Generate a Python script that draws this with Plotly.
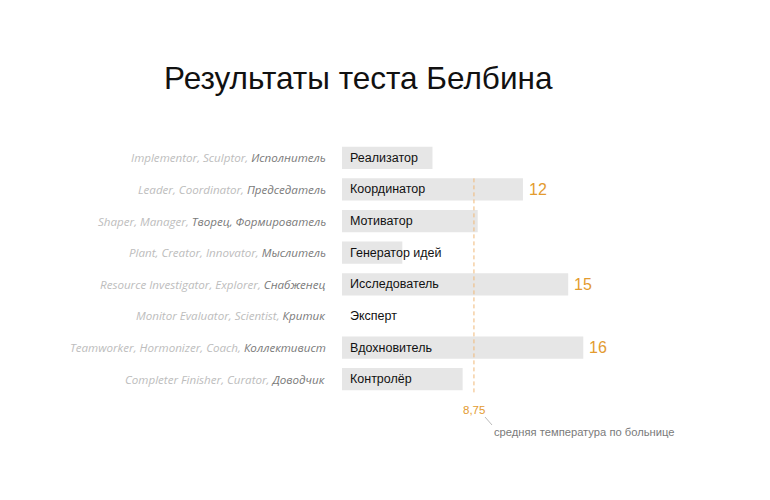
import plotly.graph_objects as go

roles_ru = ["Реализатор", "Координатор", "Мотиватор", "Генератор идей",
            "Исследователь", "Эксперт", "Вдохновитель", "Контролёр"]
roles_en = ["Implementor, Sculptor", "Leader, Coordinator", "Shaper, Manager",
            "Plant, Creator, Innovator", "Resource Investigator, Explorer",
            "Monitor Evaluator, Scientist", "Teamworker, Hormonizer, Coach",
            "Completer Finisher, Curator"]
roles_alt = ["Исполнитель", "Председатель", "Творец, Формирователь", "Мыслитель",
             "Снабженец", "Критик", "Коллективист", "Доводчик"]
values = [6, 12, 9, 4, 15, 0, 16, 8]
show_value = [False, True, False, False, True, False, True, False]
mean_value = sum(values) / len(values)

title = "Результаты теста Белбина"
mean_note = "средняя температура по больнице"

W, H = 770, 500
DX, DY = 8, 7  # page offset
L = 342 - DX
T = 141 - DY
PW = 377
PH = 253
R = W - L - PW
B = H - T - PH
XMAX = 25

def px2x(px):
    return (px - DX - L) / PW

def py2y(py):
    return (T + PH - (py - DY)) / PH

ORANGE = "#E39B2F"
ypos = list(range(len(roles_ru)))

fig = go.Figure()
fig.add_trace(go.Bar(
    x=values, y=ypos, orientation="h", width=0.7,
    marker=dict(color="#E6E6E6", line=dict(width=0)),
    hoverinfo="skip",
))

ann = []
for i, (ru, en, alt, v, sv) in enumerate(zip(roles_ru, roles_en, roles_alt, values, show_value)):
    ann.append(dict(
        x=0, y=i, xref="x", yref="y", xanchor="right", yanchor="middle", xshift=-14,
        text=f"<i><span style='color:#BDBDBD'>{en}, </span><span style='color:#7A7A7A'>{alt}</span></i>",
        showarrow=False, font=dict(family="Open Sans", size=11.6),
    ))
    ann.append(dict(
        x=0, y=i, xref="x", yref="y", xanchor="left", yanchor="middle", xshift=6,
        text=ru, showarrow=False,
        font=dict(family="Liberation Sans, Arial", size=12.5, color="#111111"),
    ))
    if sv:
        ann.append(dict(
            x=v, y=i, xref="x", yref="y", xanchor="left", yanchor="middle", xshift=4,
            text=str(v), showarrow=False,
            font=dict(family="Liberation Sans, Arial", size=16, color=ORANGE),
        ))

ann.append(dict(
    x=px2x(162), y=py2y(77), xref="paper", yref="paper", xanchor="left", yanchor="middle",
    text=title, showarrow=False,
    font=dict(family="Liberation Sans, Arial", size=31.5, color="#111111"),
))
ann.append(dict(
    x=mean_value, y=py2y(409), xref="x", yref="paper", xanchor="center", yanchor="middle",
    text=f"{mean_value:.2f}".replace(".", ","), showarrow=False,
    font=dict(family="Liberation Sans, Arial", size=11.5, color=ORANGE),
))
ann.append(dict(
    x=px2x(492), y=py2y(431), xref="paper", yref="paper", xanchor="left", yanchor="middle",
    text=mean_note, showarrow=False,
    font=dict(family="Liberation Sans, Arial", size=11.2, color="#7A7A7A"),
))

shapes = [
    dict(type="line", xref="x", yref="y", x0=mean_value, x1=mean_value, y0=0.65, y1=7.6,
         line=dict(color="#F0B878", width=1, dash="4px,3px"), layer="above"),
    dict(type="line", xref="paper", yref="paper", x0=px2x(485), x1=px2x(492),
         y0=py2y(416), y1=py2y(424), line=dict(color="#AAAAAA", width=0.8)),
]

fig.update_layout(
    width=W, height=H, margin=dict(l=L, r=R, t=T, b=B),
    plot_bgcolor="white", paper_bgcolor="white",
    showlegend=False, annotations=ann, shapes=shapes,
    xaxis=dict(range=[0, XMAX], visible=False, fixedrange=True),
    yaxis=dict(range=[7.5, -0.5], visible=False, fixedrange=True),
    bargap=0.3,
)

fig.write_html("out.html")
